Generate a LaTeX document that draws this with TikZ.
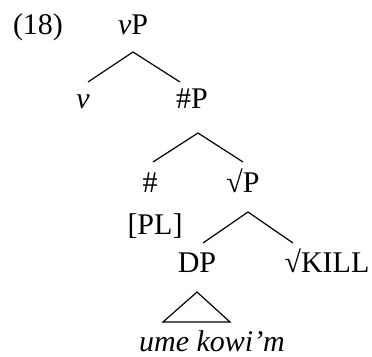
\documentclass[tikz,border=0pt]{standalone}
\usepackage{fontspec}
\setmainfont{Liberation Serif}
\begin{document}
\begin{tikzpicture}[x=1pt,y=-1pt,
  lbl/.style={anchor=base,inner sep=0pt,font=\fontsize{30}{34}\selectfont},
  branch/.style={line width=1.2pt,line join=miter}]
\useasboundingbox (0,0) rectangle (372,356);
% labels
\node[lbl] (ex) at (38,34) {(18)};
\node[lbl] (vP) at (133,34) {\textit{v}P};
\node[lbl] (v) at (83,108) {\textit{v}};
\node[lbl] (numP) at (192,108) {\#P};
\node[lbl] (num) at (150,192) {\#};
\node[lbl] (rootP) at (243,192) {√P};
\node[lbl] (pl) at (155,234) {[PL]};
\node[lbl] (DP) at (197,272) {DP};
\node[lbl] (kill) at (327,272) {√KILL};
\node[lbl] (ume) at (212,351) {\textit{ume kowi’m}};
% branch points
\coordinate (a1) at (133,52);
\coordinate (l1) at (88,82);
\coordinate (r1) at (180,82);
\coordinate (a2) at (198,133);
\coordinate (l2) at (153,162);
\coordinate (r2) at (243,162);
\coordinate (a3) at (248,212);
\coordinate (l3) at (203,243);
\coordinate (r3) at (293,243);
\coordinate (ta) at (197,292);
\coordinate (tl) at (163,322);
\coordinate (tr) at (230,322);
\draw[branch] (l1) -- (a1) -- (r1);
\draw[branch] (l2) -- (a2) -- (r2);
\draw[branch] (l3) -- (a3) -- (r3);
\draw[branch] (ta) -- (tl) -- (tr) -- cycle;
\end{tikzpicture}
\end{document}
